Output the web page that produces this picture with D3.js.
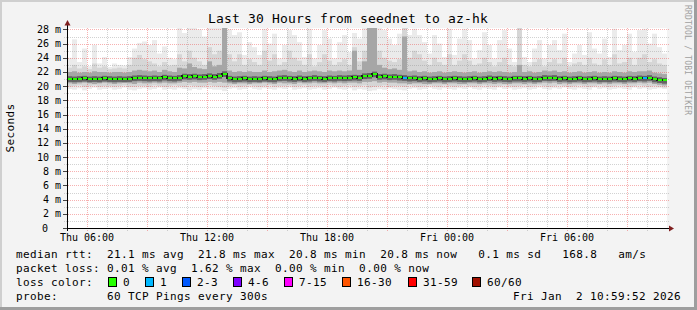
<!DOCTYPE html>
<html>
<head>
<meta charset="utf-8"/>
<title>Last 30 Hours from seednet to az-hk</title>
<script src="https://cdn.jsdelivr.net/npm/d3@7"></script>
<style>
body { margin: 0; background: #f3f3f3; }
svg { display: block; }
svg text { font-family: "DejaVu Sans Mono", monospace; fill: #000; white-space: pre; }
.legend text { font-size: 11px; letter-spacing: 0.38px; }
.axis-label { font-size: 10px; }
</style>
</head>
<body>
<svg id="chart" width="697" height="310"></svg>
<script>
// time window: 30 hours ending at the graph timestamp, 15 minute bins
var endTime = new Date(2026, 0, 2, 10, 59, 52);
var hours = 30;
var binMinutes = 15;

// median rtt per bin (ms)
var median = [
  21.05, 21.0, 21.05, 21.1, 21.0, 21.05, 21.0, 21.1, 21.05, 21.0,
  21.05, 21.0, 21.05, 21.15, 21.2, 21.15, 21.1, 21.15, 21.1, 21.25,
  21.15, 21.1, 21.2, 21.4, 21.35, 21.4, 21.3, 21.35, 21.45, 21.35,
  21.5, 21.75, 21.1, 21.0, 21.05, 21.1, 21.0, 21.05, 21.0, 21.1,
  21.05, 21.0, 21.15, 21.2, 21.1, 21.05, 21.15, 21.05, 21.1, 21.2,
  21.1, 21.05, 21.15, 21.1, 21.2, 21.15, 21.2, 21.25, 21.2, 21.45,
  21.5, 21.7, 21.35, 21.4, 21.3, 21.35, 21.25, 21.2, 21.1, 21.15,
  21.05, 21.1, 21.0, 21.05, 21.1, 21.0, 21.05, 21.1, 21.05, 21.0,
  21.05, 21.1, 21.0, 21.05, 21.15, 21.05, 21.1, 21.05, 21.0, 21.1,
  21.1, 21.05, 21.1, 21.0, 21.05, 21.2, 21.15, 21.2, 21.05, 21.1,
  21.0, 21.05, 21.1, 21.0, 21.05, 21.1, 21.0, 21.05, 21.0, 21.1,
  21.05, 21.0, 21.1, 21.05, 21.15, 21.1, 21.2, 21.0, 20.9, 20.8
];

// smoke: spread of the 60 pings per bin (ms)
var smokeMax = [
  24.0, 26.6, 23.4, 25.3, 22.8, 25.8, 23.2, 24.1, 22.7, 23.2,
  23.0, 22.9, 24.1, 25.3, 26.1, 26.3, 25.8, 26.5, 24.6, 25.6,
  24.0, 23.8, 28.5, 27.5, 28.5, 28.5, 28.0, 27.0, 28.5, 28.5,
  28.5, 28.5, 28.0, 27.2, 27.6, 24.4, 26.2, 25.5, 24.4, 28.1,
  26.0, 27.4, 23.9, 25.8, 27.9, 27.2, 26.2, 24.1, 28.1, 23.9,
  25.8, 27.9, 26.7, 23.9, 26.2, 27.2, 24.8, 27.5, 26.7, 28.5,
  28.5, 28.5, 28.5, 27.9, 26.7, 25.8, 27.4, 28.5, 27.2, 28.1,
  27.2, 26.2, 24.6, 27.2, 26.0, 24.1, 28.1, 24.4, 26.7, 28.1,
  26.5, 23.9, 25.1, 27.6, 25.8, 23.9, 26.5, 27.9, 25.3, 23.4,
  28.5, 24.1, 23.4, 25.3, 26.5, 23.9, 25.8, 26.5, 25.1, 27.4,
  23.4, 24.6, 25.8, 24.4, 27.6, 25.3, 24.6, 26.7, 24.1, 28.1,
  25.1, 25.8, 27.4, 24.8, 27.9, 28.1, 26.0, 27.4, 25.5, 24.6
];
var smokeHigh = [
  22.6, 23.0, 22.5, 22.8, 22.4, 23.2, 22.6, 22.8, 22.4, 22.5,
  22.6, 22.5, 23.0, 24.0, 24.4, 23.8, 23.5, 23.2, 22.8, 23.4,
  22.9, 23.0, 24.5, 23.5, 25.0, 24.0, 23.5, 23.0, 25.5, 24.5,
  25.0, 28.5, 24.5, 23.5, 24.5, 23.0, 23.8, 23.4, 23.0, 25.0,
  23.6, 24.5, 23.0, 23.4, 25.0, 24.0, 23.6, 23.0, 24.5, 22.8,
  23.4, 24.5, 23.6, 23.0, 23.4, 23.8, 23.0, 25.5, 23.5, 25.0,
  28.5, 28.5, 25.0, 24.0, 23.6, 23.4, 23.8, 28.5, 24.0, 25.0,
  24.5, 23.6, 23.0, 24.0, 23.4, 23.0, 24.5, 23.0, 23.6, 24.5,
  23.6, 23.0, 23.2, 24.0, 23.4, 22.8, 23.4, 24.0, 23.0, 22.8,
  28.5, 23.0, 22.8, 23.4, 23.8, 22.8, 23.4, 23.8, 23.2, 24.0,
  22.8, 23.2, 23.4, 23.0, 24.0, 23.2, 23.0, 23.8, 23.0, 24.5,
  23.2, 23.4, 24.0, 23.0, 24.0, 24.5, 23.4, 23.8, 23.2, 23.0
];
var smokeQ3 = [
  22.0, 22.1, 21.9, 22.0, 21.9, 22.1, 22.0, 22.0, 21.9, 22.0,
  22.0, 21.9, 22.0, 22.2, 22.3, 22.2, 22.1, 22.2, 22.0, 22.3,
  22.1, 22.0, 22.6, 22.5, 23.2, 22.7, 22.5, 22.4, 23.5, 22.8,
  23.0, 28.5, 22.2, 22.0, 22.1, 22.0, 22.1, 22.0, 22.0, 22.2,
  22.0, 22.1, 22.2, 22.3, 22.1, 22.0, 22.2, 22.0, 22.1, 22.2,
  22.1, 22.0, 22.2, 22.1, 22.2, 22.1, 22.2, 25.0, 22.3, 23.5,
  28.5, 28.5, 23.0, 22.6, 22.4, 22.5, 22.3, 27.0, 22.1, 22.2,
  22.0, 22.1, 21.9, 22.0, 22.1, 21.9, 22.0, 22.1, 22.0, 21.9,
  22.0, 22.1, 21.9, 22.0, 22.1, 22.0, 22.1, 22.0, 21.9, 22.0,
  23.0, 22.0, 22.1, 21.9, 22.0, 22.2, 22.1, 22.2, 22.0, 22.1,
  21.9, 22.0, 22.1, 21.9, 22.0, 22.1, 21.9, 22.0, 21.9, 22.1,
  22.0, 21.9, 22.1, 22.0, 22.1, 22.1, 22.2, 21.9, 21.8, 21.7
];
var smokeQ1 = [
  20.4, 20.3, 20.4, 20.5, 20.4, 20.3, 20.4, 20.5, 20.4, 20.3,
  20.4, 20.5, 20.4, 20.3, 20.5, 20.4, 20.4, 20.5, 20.4, 20.5,
  20.4, 20.4, 20.5, 20.6, 20.5, 20.6, 20.5, 20.5, 20.6, 20.5,
  20.6, 20.5, 20.4, 20.3, 20.4, 20.4, 20.3, 20.4, 20.4, 20.5,
  20.4, 20.3, 20.5, 20.4, 20.4, 20.3, 20.5, 20.4, 20.4, 20.5,
  20.4, 20.4, 20.5, 20.4, 20.5, 20.4, 20.5, 20.5, 20.4, 20.6,
  20.6, 20.7, 20.5, 20.6, 20.5, 20.5, 20.4, 20.4, 20.3, 20.4,
  20.4, 20.3, 20.3, 20.4, 20.4, 20.3, 20.4, 20.4, 20.3, 20.3,
  20.4, 20.4, 20.3, 20.4, 20.4, 20.3, 20.4, 20.3, 20.3, 20.4,
  20.4, 20.3, 20.4, 20.3, 20.4, 20.5, 20.4, 20.5, 20.3, 20.4,
  20.3, 20.4, 20.4, 20.3, 20.4, 20.4, 20.3, 20.4, 20.3, 20.4,
  20.4, 20.3, 20.4, 20.4, 20.5, 20.4, 20.5, 20.3, 20.2, 20.1
];
var smokeLow = [
  19.9, 20.0, 20.1, 19.9, 20.0, 20.1, 19.9, 20.0, 20.0, 19.9,
  20.0, 20.1, 19.9, 19.9, 20.0, 20.0, 19.9, 20.1, 20.0, 19.9,
  20.0, 20.1, 20.0, 19.9, 20.1, 20.0, 19.9, 20.0, 20.1, 20.0,
  19.9, 19.8, 20.0, 20.1, 19.9, 20.0, 20.1, 20.0, 19.9, 20.0,
  20.1, 19.9, 20.0, 20.0, 20.1, 19.9, 20.0, 20.1, 19.9, 20.0,
  20.0, 19.9, 20.1, 20.0, 19.9, 20.0, 20.1, 19.9, 20.0, 20.1,
  19.8, 19.9, 20.0, 20.1, 19.9, 20.0, 20.0, 19.9, 20.1, 20.0,
  19.9, 20.0, 20.1, 20.0, 19.9, 20.1, 20.0, 19.9, 20.0, 20.1,
  20.0, 19.9, 20.0, 20.1, 20.0, 19.9, 20.0, 20.1, 20.0, 19.9,
  20.0, 20.1, 19.9, 20.0, 20.1, 20.0, 19.9, 20.0, 20.1, 20.0,
  19.9, 20.0, 20.1, 20.0, 19.9, 20.0, 20.1, 20.0, 19.9, 20.0,
  20.1, 20.0, 19.9, 20.0, 20.1, 20.0, 19.9, 20.0, 19.9, 19.8
];
var smokeMin = [
  19.6, 19.5, 19.7, 19.4, 19.6, 19.8, 19.5, 19.6, 19.7, 19.5,
  19.6, 19.8, 19.5, 19.4, 19.6, 19.7, 19.5, 19.6, 19.8, 19.5,
  19.6, 19.5, 19.7, 19.6, 19.4, 19.6, 19.5, 19.7, 19.6, 19.5,
  19.5, 19.3, 19.6, 19.7, 19.5, 19.6, 19.8, 19.6, 19.5, 19.7,
  19.6, 19.5, 19.7, 19.6, 19.8, 19.5, 19.6, 19.7, 19.5, 19.6,
  19.7, 19.5, 19.6, 19.8, 19.6, 19.5, 19.7, 19.4, 19.6, 19.5,
  19.3, 19.4, 19.6, 19.5, 19.7, 19.6, 19.5, 19.4, 19.6, 19.7,
  19.5, 19.6, 19.8, 19.6, 19.5, 19.7, 19.6, 19.5, 19.7, 19.6,
  19.8, 19.6, 19.5, 19.7, 19.6, 19.5, 19.8, 19.6, 19.7, 19.5,
  19.6, 19.7, 19.5, 19.6, 19.8, 19.6, 19.5, 19.7, 19.6, 19.8,
  19.6, 19.5, 19.7, 19.6, 19.5, 19.8, 19.6, 19.7, 19.5, 19.6,
  19.7, 19.6, 19.5, 19.8, 19.6, 19.7, 19.5, 19.6, 19.7, 19.6
];

// bins with lost pings: [bin, pings lost]
var lossEvents = [[67, 1], [115, 1]];

// loss color legend
var lossLabels = ["0", "1", "2-3", "4-6", "7-15", "16-30", "31-59", "60/60"];
var lossColors = ["#26ff00", "#00b8ff", "#0059ff", "#7e00ff", "#ff00ff", "#ff5500", "#ff0000", "#a01000"];
var lossMin = [0, 1, 2, 4, 7, 16, 31, 60];

var yTicks = d3.range(0, 29, 2);

var legendRows = [
  "median rtt:  21.1 ms avg  21.8 ms max  20.8 ms min  20.8 ms now   0.1 ms sd   168.8   am/s",
  "packet loss: 0.01 % avg  1.62 % max  0.00 % min  0.00 % now",
  "loss color:",
  "probe:       60 TCP Pings every 300s"
];
var stamp = "Fri Jan  2 10:59:52 2026";

var startTime = d3.timeHour.offset(endTime, -hours);
var nBins = median.length;
function binTime(i) { return d3.timeMinute.offset(startTime, i * binMinutes); }

var svg = d3.select("#chart");

var x = d3.scaleTime().domain([startTime, endTime]).range([67, 667]);
var y = d3.scaleLinear().domain([0, 28.2]).range([228, 28]);

// background and 3d frame
svg.append("rect").attr("width", 697).attr("height", 310).attr("fill", "#f3f3f3");
svg.append("path").attr("d", "M0,0H697V2H2V310H0Z").attr("fill", "#cfcfcf");
svg.append("path").attr("d", "M697,0V310H0V307H694V0Z").attr("fill", "#9e9e9e");

svg.append("rect")
    .attr("x", 67).attr("y", 28)
    .attr("width", 600).attr("height", 200)
    .attr("fill", "#fff");

svg.append("clipPath").attr("id", "plot")
  .append("rect").attr("x", 67).attr("y", 28).attr("width", 600).attr("height", 200);

var bins = d3.range(nBins);

function smokeLayer(parent, lo, hi, color) {
  parent.append("g").selectAll("rect")
    .data(bins)
    .join("rect")
      .attr("x", function(i) { return x(binTime(i)); })
      .attr("width", function(i) { return x(binTime(i + 1)) - x(binTime(i)); })
      .attr("y", function(i) { return y(hi[i]); })
      .attr("height", function(i) { return y(lo[i]) - y(hi[i]); })
      .attr("fill", color);
}

// light outer smoke
var outer = svg.append("g").attr("clip-path", "url(#plot)");
smokeLayer(outer, smokeMin, smokeMax, "#ebebeb");
smokeLayer(outer, smokeLow, smokeHigh, "#d6d6d6");

// grid (dotted), shows through the light smoke
var grid = svg.append("g").attr("shape-rendering", "crispEdges");
var hourTicks = d3.timeHour.range(d3.timeHour.ceil(startTime), endTime);
var majorGrid = "rgba(232,40,40,0.36)";
var minorGrid = "rgba(143,143,143,0.4)";

grid.selectAll("line.vx")
  .data(hourTicks)
  .join("line")
    .attr("x1", function(d) { return Math.round(x(d)) + 0.5; })
    .attr("x2", function(d) { return Math.round(x(d)) + 0.5; })
    .attr("y1", 28).attr("y2", 231)
    .attr("stroke", function(d) { return d.getHours() % 3 === 0 ? majorGrid : minorGrid; })
    .attr("stroke-dasharray", "1,1");

grid.selectAll("line.hy")
  .data(d3.range(1, 29))
  .join("line")
    .attr("x1", 64).attr("x2", 669)
    .attr("y1", function(v) { return Math.round(y(v)) + 0.5; })
    .attr("y2", function(v) { return Math.round(y(v)) + 0.5; })
    .attr("stroke", function(v) { return v % 2 === 0 ? majorGrid : minorGrid; })
    .attr("stroke-dasharray", "1,1");

// dense inner smoke and the core around the median
var inner = svg.append("g").attr("clip-path", "url(#plot)");
smokeLayer(inner, smokeQ1, smokeQ3, "#a6a6a6");

inner.append("g").selectAll("rect")
  .data(bins)
  .join("rect")
    .attr("x", function(i) { return x(binTime(i)); })
    .attr("width", function(i) { return x(binTime(i + 1)) - x(binTime(i)); })
    .attr("y", function(i) { return y(median[i] + 0.35); })
    .attr("height", function(i) { return y(median[i] - 0.45) - y(median[i] + 0.35); })
    .attr("fill", "#646464");

// median line coloured by loss
function lossAt(i) {
  var ev = lossEvents.find(function(e) { return e[0] === i; });
  return ev ? ev[1] : 0;
}
function lossColor(n) {
  var k = 0;
  lossMin.forEach(function(m, j) { if (n >= m) k = j; });
  return lossColors[k];
}
function yPix(v) { return Math.round(y(v)); }

var stepLine = d3.line()
    .x(function(i) { return x(binTime(i)); })
    .y(function(i) { return yPix(median[Math.min(i, nBins - 1)]); })
    .curve(d3.curveStepAfter);

inner.append("path")
    .attr("d", stepLine(d3.range(nBins + 1)))
    .attr("fill", "none")
    .attr("stroke", "#1a1a1a")
    .attr("stroke-width", 2);

inner.append("g").selectAll("line")
  .data(bins)
  .join("line")
    .attr("x1", function(i) { return x(binTime(i)) + 1; })
    .attr("x2", function(i) { return x(binTime(i + 1)); })
    .attr("y1", function(i) { return yPix(median[i]); })
    .attr("y2", function(i) { return yPix(median[i]); })
    .attr("stroke", function(i) { return lossColor(lossAt(i)); })
    .attr("stroke-width", 2);

// axes
var axis = svg.append("g").attr("shape-rendering", "crispEdges");
axis.append("line").attr("x1", 67.5).attr("x2", 67.5).attr("y1", 231).attr("y2", 23).attr("stroke", "#000");
axis.append("line").attr("x1", 63).attr("x2", 670).attr("y1", 228.5).attr("y2", 228.5).attr("stroke", "#000");
axis.selectAll("line.yt")
  .data(yTicks)
  .join("line")
    .attr("x1", 63).attr("x2", 67)
    .attr("y1", function(v) { return Math.round(y(v)) + 0.5; })
    .attr("y2", function(v) { return Math.round(y(v)) + 0.5; })
    .attr("stroke", "#444");
svg.append("path").attr("d", "M64.5,25.5L70.5,25.5L67.5,20Z").attr("fill", "#7f1f1f");
svg.append("path").attr("d", "M669,225.5L669,231.5L674,228.5Z").attr("fill", "#7f1f1f");

// y tick labels
svg.append("g").selectAll("text")
  .data(yTicks)
  .join("text")
    .attr("class", "axis-label")
    .attr("x", function(v) { return v === 0 ? 48 : 61; })
    .attr("y", function(v) { return y(v); })
    .attr("dy", "0.35em")
    .attr("text-anchor", "end")
    .text(function(v) { return v === 0 ? "0" : v + " m"; });

// x tick labels every 6 hours
var fmt = d3.timeFormat("%a %H:%M");
svg.append("g").selectAll("text")
  .data(hourTicks.filter(function(d) { return d.getHours() % 6 === 0; }))
  .join("text")
    .attr("class", "axis-label")
    .attr("x", function(d) { return x(d); })
    .attr("y", 237)
    .attr("dy", "0.35em")
    .attr("text-anchor", "middle")
    .text(fmt);

// title, vertical label, watermark
svg.append("text")
    .attr("x", 348).attr("y", 18).attr("dy", "0.35em")
    .attr("text-anchor", "middle")
    .style("font-size", "13px").style("letter-spacing", "0.17px")
    .text("Last 30 Hours from seednet to az-hk");

svg.append("text")
    .attr("transform", "translate(10,128) rotate(-90)")
    .attr("dy", "0.35em")
    .attr("text-anchor", "middle")
    .style("font-size", "11px").style("letter-spacing", "0.38px")
    .text("Seconds");

svg.append("text")
    .attr("transform", "translate(688,5) rotate(90)")
    .attr("dy", "0.35em")
    .style("font-size", "8px").style("letter-spacing", "0.2px")
    .style("fill", "#a0a0a0")
    .text("RRDTOOL / TOBI OETIKER");

// legend
var legend = svg.append("g").attr("class", "legend");
legend.selectAll("text.row")
  .data(legendRows)
  .join("text")
    .attr("x", 16)
    .attr("y", function(d, i) { return 254 + i * 14; })
    .attr("dy", "0.35em")
    .text(function(d) { return d; });

legend.append("text")
    .attr("x", 681).attr("y", 296).attr("dy", "0.35em")
    .attr("text-anchor", "end")
    .text(stamp);

var boxX = [108, 145, 182, 233, 284, 342, 408, 472];
var sw = legend.selectAll("g.sw")
  .data(lossLabels)
  .join("g");
sw.append("rect")
    .attr("x", function(d, i) { return boxX[i] + 0.5; })
    .attr("y", 277.5)
    .attr("width", 8).attr("height", 9)
    .attr("fill", function(d, i) { return lossColors[i]; })
    .attr("stroke", "#000");
sw.append("text")
    .attr("x", function(d, i) { return boxX[i] + 15; })
    .attr("y", 282).attr("dy", "0.35em")
    .text(function(d) { return d; });
</script>
</body>
</html>
